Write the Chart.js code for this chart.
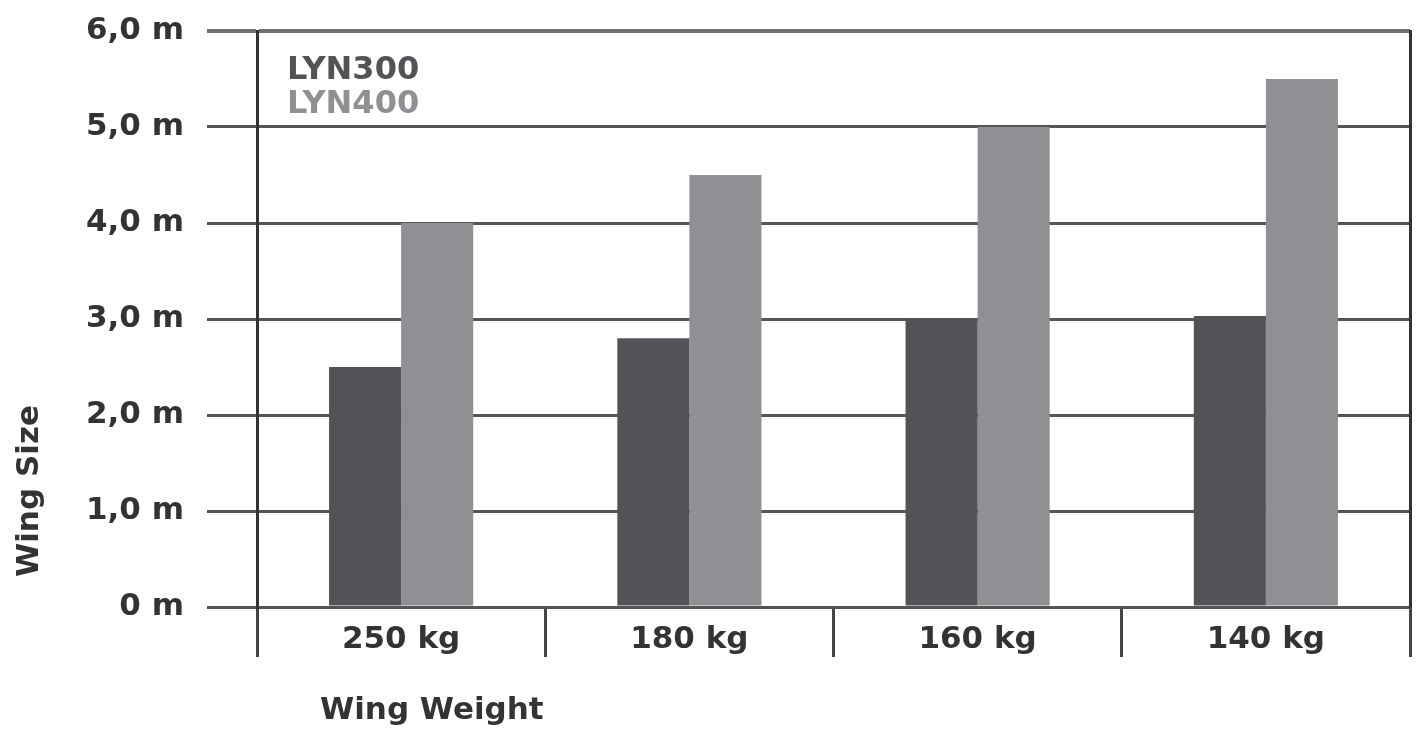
<!DOCTYPE html>
<html>
<head>
<meta charset="utf-8">
<style>
  html, body { margin: 0; padding: 0; background: #ffffff; }
  #wrap { width: 1423px; height: 734px; }
</style>
<script src="https://cdn.jsdelivr.net/npm/chart.js@4.4.1/dist/chart.umd.min.js"></script>
</head>
<body>
<div id="wrap"><canvas id="c" width="1423" height="734"></canvas></div>
<script>
// Wing size by wing weight, two models
const categories = ['250 kg', '180 kg', '160 kg', '140 kg'];
const seriesNames = ['LYN300', 'LYN400'];
const lyn300 = [2.5, 2.8, 3.0, 3.03];
const lyn400 = [4.0, 4.5, 5.0, 5.5];
const yTickLabels = ['0 m', '1,0 m', '2,0 m', '3,0 m', '4,0 m', '5,0 m', '6,0 m'];
const xTitle = 'Wing Weight';
const yTitle = 'Wing Size';

const FONT = '"DejaVu Sans", Verdana, sans-serif';
const DARK = '#525356';
const LIGHT = '#8f9094';
const TEXT = '#333333';

// Axis titles and the in-plot legend
const annotations = {
  id: 'annotations',
  afterDraw(chart) {
    const { ctx, chartArea } = chart;
    ctx.save();
    ctx.font = 'bold 31px ' + FONT;
    ctx.fillStyle = TEXT;
    ctx.textAlign = 'left';
    ctx.textBaseline = 'alphabetic';
    ctx.fillText(xTitle, chartArea.left + 63, 719);

    ctx.save();
    ctx.translate(38, 491);
    ctx.rotate(-Math.PI / 2);
    ctx.textAlign = 'center';
    ctx.fillText(yTitle, 0, 0);
    ctx.restore();

    ctx.font = 'bold 32px ' + FONT;
    chart.data.datasets.forEach((ds, i) => {
      ctx.fillStyle = ds.backgroundColor;
      ctx.fillText(ds.label, chartArea.left + 30, 79 + i * 34);
    });
    ctx.restore();
  }
};

new Chart(document.getElementById('c'), {
  type: 'bar',
  data: {
    labels: categories,
    datasets: [
      { label: seriesNames[0], data: lyn300, backgroundColor: DARK, borderWidth: 0 },
      { label: seriesNames[1], data: lyn400, backgroundColor: LIGHT, borderWidth: 0 }
    ]
  },
  options: {
    responsive: false,
    animation: false,
    devicePixelRatio: 1,
    layout: { padding: { left: 0, top: 31, right: 13, bottom: 0 } },
    datasets: { bar: { categoryPercentage: 0.5, barPercentage: 1.0 } },
    plugins: {
      legend: { display: false },
      title: { display: false },
      tooltip: { enabled: false }
    },
    scales: {
      x: {
        afterFit(scale) { scale.height = 127; },
        grid: {
          offset: true,
          drawOnChartArea: false,
          drawTicks: true,
          tickLength: 50,
          color: '#444444',
          lineWidth: 3
        },
        border: { display: false },
        ticks: {
          padding: -36,
          color: TEXT,
          font: { family: FONT, size: 31, weight: 'bold' }
        }
      },
      y: {
        min: 0,
        max: 6,
        afterFit(scale) {
          scale.width = 257;
          scale.paddingTop = 0;
          scale.paddingBottom = 0;
        },
        grid: {
          color: (c) => (c.tick && c.tick.value === 6 ? '#707070' : '#555555'),
          lineWidth: (c) => (c.tick && c.tick.value === 6 ? 4 : 3),
          tickLength: 50,
          drawTicks: true
        },
        border: { display: true, color: '#333333', width: 3 },
        ticks: {
          stepSize: 1,
          padding: 23,
          color: TEXT,
          font: { family: FONT, size: 31, weight: 'bold' },
          callback: (v) => yTickLabels[v]
        }
      },
      y2: {
        position: 'right',
        min: 0,
        max: 6,
        afterFit(scale) {
          scale.width = 0;
          scale.paddingTop = 0;
          scale.paddingBottom = 0;
        },
        grid: { display: false, drawTicks: false },
        border: { display: true, color: '#333333', width: 3 },
        ticks: { display: false }
      }
    }
  },
  plugins: [annotations]
});
</script>
</body>
</html>
